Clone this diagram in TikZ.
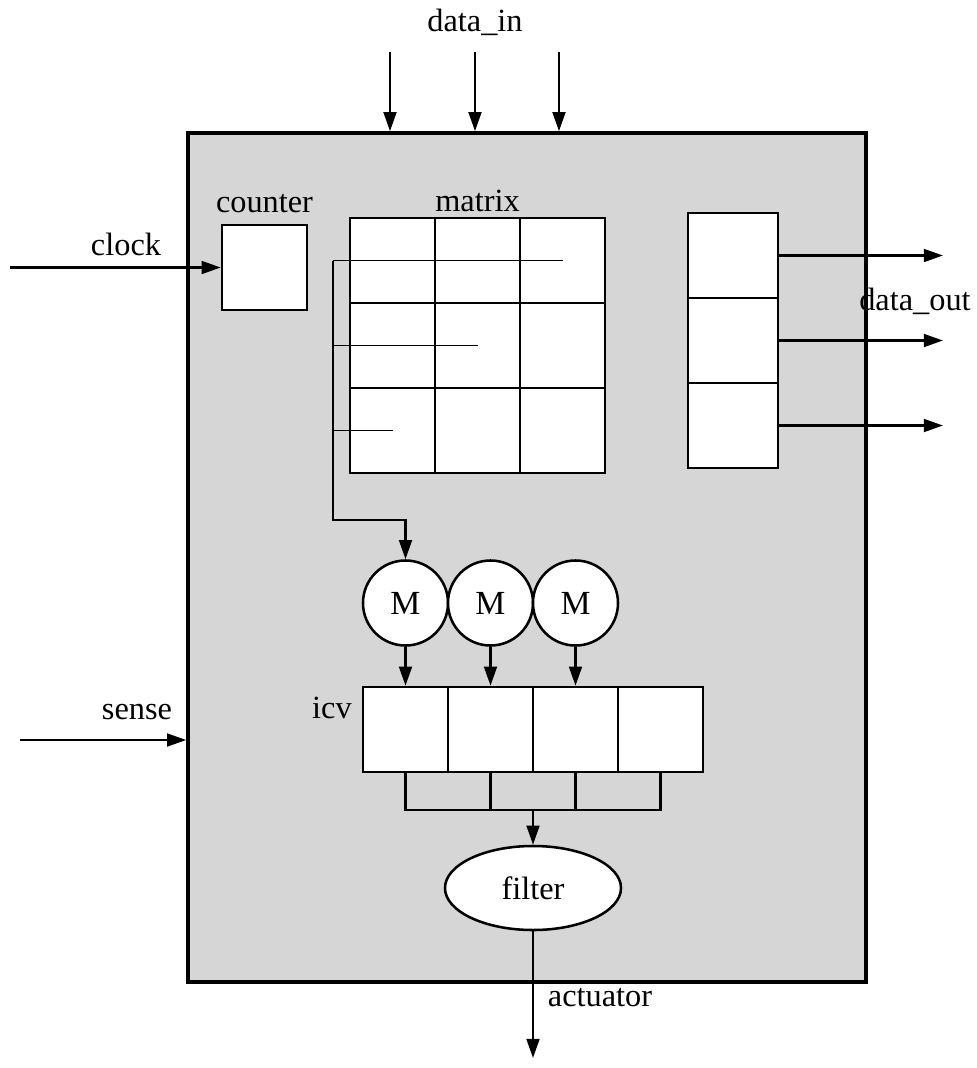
\documentclass[tikz,border=0pt]{standalone}
\usepackage{fontspec}
\setmainfont{Liberation Serif}
\usetikzlibrary{arrows.meta,positioning,calc,shapes.geometric}

\begin{document}
\begin{tikzpicture}[
    x=0.025cm, y=-0.025cm,
    frame/.style={draw, line width=2.4pt, fill=gray!32, minimum width=16.95cm, minimum height=21.225cm},
    cell/.style={draw, line width=1.8pt, fill=white, minimum size=2.125cm, inner sep=0pt},
    regcell/.style={cell, minimum width=2.25cm},
    mcirc/.style={circle, draw, line width=1.8pt, fill=white, minimum size=2.125cm, inner sep=0pt, font=\fontsize{24}{28}\selectfont},
    flt/.style={ellipse, draw, line width=1.8pt, fill=white, minimum width=4.4cm, minimum height=2.1cm, font=\fontsize{23}{28}\selectfont},
    lbl/.style={font=\fontsize{23}{28}\selectfont},
    wire/.style={line width=1.8pt},
    tap/.style={line width=1.1pt},
    arr/.style={wire, -{Triangle[length=0.48cm, width=0.32cm]}}
]
\useasboundingbox (0,0) rectangle (977,1068);

\node[frame] (sys) at (527, 557.5) {};

\node[cell] (cnt) at (264.5, 267.5) {};
\node[lbl, above=0.15cm of cnt] {counter};

\foreach \r in {0,1,2} {
  \foreach \c in {0,1,2} {
    \node[cell] (m\r\c) at (392.5+85*\c, 260.5+85*\r) {};
  }
}
\node[lbl, above=0pt of m01] {matrix};

\foreach \r in {0,1,2} {
  \node[regcell] (r\r) at (733, 255.5+85*\r) {};
}

\foreach \k in {0,1,2} {
  \node[mcirc] (mc\k) at (405.5+85*\k, 603) {M};
}

\foreach \k in {0,1,2,3} {
  \node[cell] (i\k) at (405.5+85*\k, 729.5) {};
}
\node[lbl] at (332, 708) {icv};

\node[flt] (flt) at (533, 888) {filter};

\node[lbl] at (475, 22) {data\_in};
\node[lbl] at (126, 244) {clock};
\node[lbl] at (137, 712) {sense};
\node[lbl] at (915, 301) {data\_out};
\node[lbl] at (600, 998) {actuator};

\coordinate (din0) at (390, 52);
\coordinate (din1) at (475, 52);
\coordinate (din2) at (559, 52);
\coordinate (clk) at (10, 267.5);
\coordinate (sns) at (20, 740);
\coordinate (dout) at (943, 0);
\coordinate (bus) at (333, 520);
\coordinate (jn) at (533, 810);
\coordinate (act) at (533, 1058);

\foreach \k in {0,1,2} {
  \draw[arr] (din\k) -- (din\k |- sys.north);
}
\draw[arr] (clk) -- (cnt.west);
\draw[arr] (sns) -- (sns -| sys.west);

\foreach \r in {0,1,2} {
  \draw[arr] (r\r.east) -- (r\r.east -| dout);
}

\draw[tap] (m02.center) -- (m02.center -| bus);
\draw[tap] (m11.center) -- (m11.center -| bus);
\draw[tap] (m20.center) -- (m20.center -| bus);
\draw[arr] (m02.center -| bus) -- (bus) -| (mc0.north);

\foreach \k in {0,1,2} {
  \draw[arr] (mc\k.south) -- (i\k.north);
}

\draw[wire] (i0.south) |- (i3.south |- jn) -- (i3.south);
\draw[wire] (i1.south) -- (i1.south |- jn);
\draw[wire] (i2.south) -- (i2.south |- jn);
\draw[arr] (jn) -- (flt.north);
\draw[arr] (flt.south) -- (act);
\end{tikzpicture}
\end{document}
